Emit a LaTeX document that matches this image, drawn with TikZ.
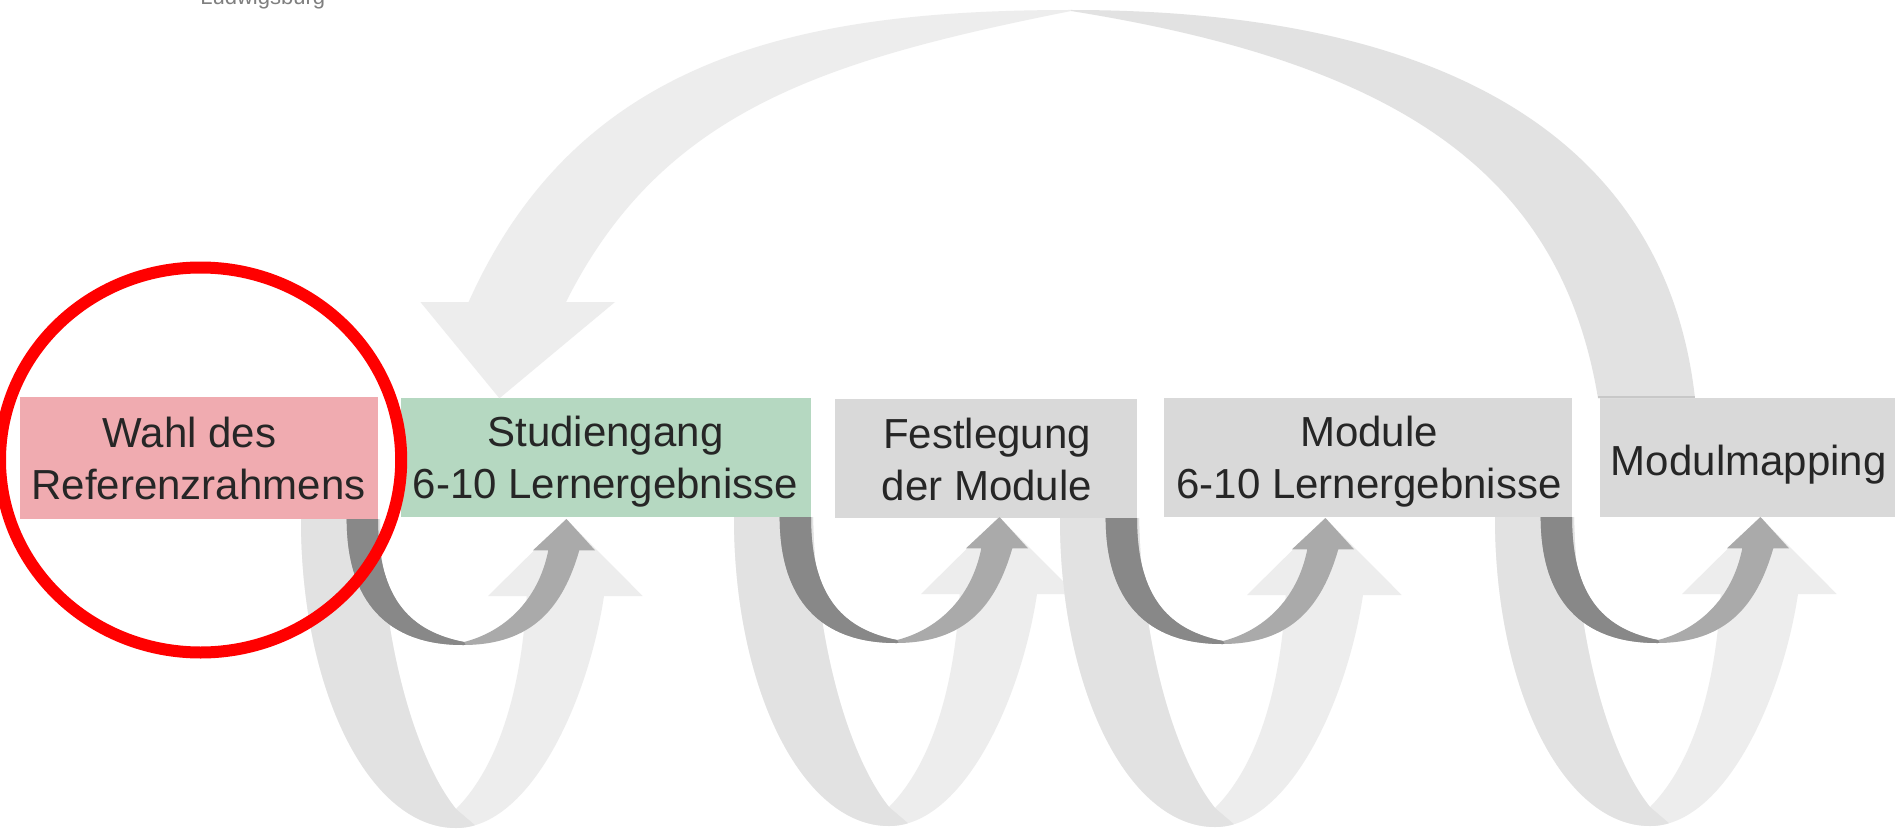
\documentclass[tikz,border=0pt]{standalone}
\usepackage{fontspec}
\setmainfont{Liberation Sans}
\definecolor{pinkbox}{HTML}{F0ABB0}
\definecolor{greenbox}{HTML}{B5D8C1}
\definecolor{graybox}{HTML}{D9D9D9}
\definecolor{txtc}{HTML}{262626}
\definecolor{logoc}{HTML}{7F7F7F}
\definecolor{arcLc}{HTML}{EDEDED}
\definecolor{arcRc}{HTML}{E2E2E2}
\definecolor{loopDarkc}{HTML}{888888}
\definecolor{loopMidc}{HTML}{AAAAAA}
\definecolor{shadowc}{HTML}{C8C8C8}
\newcommand{\BigRibbonPath}{(-77,0) .. controls (-77,173) and (-8,309) .. (78,309) .. controls (152,309) and (210,183) .. (226,77) -- (264.7,77) -- (188,0) -- (110,77) -- (148.7,77) .. controls (143,183) and (115,253) .. (78,290) .. controls (40,243) and (5,133) .. (2,0) -- cycle}
\newcommand{\SmallRibbonPath}{(-31.3,0) .. controls (-31.3,82.6) and (9.4,126) .. (85,126) .. controls (154.6,126) and (185,88) .. (201.3,31.3) -- (217,31.3) -- (188.5,0) -- (155,31.3) -- (170.3,31.3) .. controls (160,83) and (125,113) .. (86,123) .. controls (35,113) and (0,83) .. (0,0) -- cycle}
\newcommand{\twinloop}[1]{%
  \begin{scope}[shift={(#1.south east)}]
    \fill[bigright] \BigRibbonPath;
    \begin{scope}
      \clip (78,290) -- (125,330) -- (-120,330) -- (-120,-10) -- (78,-10) -- cycle;
      \fill[bigleft] \BigRibbonPath;
    \end{scope}
    \fill[smallright] \SmallRibbonPath;
    \begin{scope}
      \clip (86,123) -- (92,135) -- (-60,135) -- (-60,-10) -- (86,-10) -- cycle;
      \fill[smallleft] \SmallRibbonPath;
    \end{scope}
  \end{scope}}
\begin{document}
\begin{tikzpicture}[x=0.5pt,y=-0.5pt,
  stepbox/.style={rectangle, inner sep=0pt, outer sep=0pt, draw=none},
  lbl/.style={font=\fontsize{21}{25.75}\selectfont, text=txtc, align=center, inner sep=0pt, anchor=base},
  bigleft/.style={fill=arcRc},
  bigright/.style={fill=arcLc},
  smallleft/.style={fill=loopDarkc},
  smallright/.style={fill=loopMidc}]
\useasboundingbox (0,0) rectangle (1895,829);
\fill[white] (0,0) rectangle (1895,829);

\node[anchor=base west, inner sep=0pt, font=\fontsize{11}{13}\selectfont, text=logoc] (logo) at (200,5) {Ludwigsburg};

% boxes
\node[stepbox, fill=pinkbox, minimum width=179pt, minimum height=61pt] (b1) at (199,458) {};
\node[stepbox, fill=greenbox, minimum width=205pt, minimum height=59.5pt] (b2) at (606,457.5) {};
\node[stepbox, fill=graybox, minimum width=151pt, minimum height=59.5pt] (b3) at (986,458.5) {};
\node[stepbox, fill=graybox, minimum width=204pt, minimum height=59.5pt] (b4) at (1368,457.5) {};
\node[stepbox, fill=graybox, minimum width=147.5pt, minimum height=59.5pt] (b5) at (1747.5,457.5) {};

% labels (base anchor = baseline of the last line)
\node[lbl] (t1) at (198.5,499.3) {Wahl des\hspace*{9pt}\\Referenzrahmens};
\node[lbl] (t2) at (605.5,498.3) {Studiengang\\6-10 Lernergebnisse};
\node[lbl] (t3) at (987,500) {Festlegung\\der Module};
\node[lbl] (t4) at (1369,498.3) {Module\\6-10 Lernergebnisse};
\node[lbl] (t5) at (1748.7,475) {Modulmapping};

% loops between the boxes
\twinloop{b1}
\twinloop{b2}
\twinloop{b3}
\twinloop{b4}

% big return arc from Modulmapping back to Studiengang
\fill[arcLc] (468.6,302) .. controls (579,55.8) and (801,10) .. (1071,10) -- (1071,11) .. controls (826,60) and (662.3,109.8) .. (566,302) -- (615,302) -- (499.4,398.3) -- (420.4,302) -- cycle;
\fill[arcRc] (1071,10) .. controls (1461,10) and (1667.25,149.8) .. (1695,398.3) -- (1598,398.3) .. controls (1560.5,171.3) and (1396.7,63.1) .. (1071,11) -- cycle;
\draw[shadowc, line width=1pt] (1598,397.3) -- (1695,397.3);

% highlight
\draw[red, line width=6pt] (200.6,460) ellipse [x radius=100.3pt, y radius=96.25pt];
\end{tikzpicture}
\end{document}
